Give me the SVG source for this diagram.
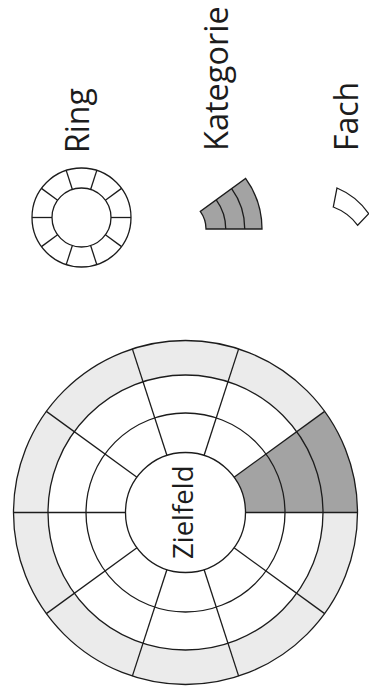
<svg xmlns="http://www.w3.org/2000/svg" width="369" height="697" viewBox="0 0 369 697">
  <style>
    .ln { fill: none; stroke: #1c1c1c; stroke-width: 1.3; }
    .lbl { font-family: "Open Sans", "Liberation Sans", sans-serif; fill: #1c1c1c; }
    .light { fill: #ebebeb; }
    .dark { fill: #a3a3a3; }
  </style>
  <rect width="369" height="697" fill="#ffffff"/>

  <g id="zielfeld-scheibe">
    <circle class="light" cx="185.5" cy="512.5" r="172"/>
    <circle cx="185.5" cy="512.5" r="137.5" fill="#ffffff"/>
    <path class="dark" d="M245.5,512.5 L357.5,512.5 A172,172 0 0,0 324.65,411.4 L234.04,477.23 A60,60 0 0,1 245.5,512.5 Z"/>
    <circle class="ln" cx="185.5" cy="512.5" r="172"/>
    <circle class="ln" cx="185.5" cy="512.5" r="137.5"/>
    <circle class="ln" cx="185.5" cy="512.5" r="99.5"/>
    <circle class="ln" cx="185.5" cy="512.5" r="60" fill="#ffffff"/>
    <g class="ln">
      <line x1="245.5" y1="512.5" x2="357.5" y2="512.5"/>
      <line x1="234.04" y1="477.23" x2="324.65" y2="411.4"/>
      <line x1="204.04" y1="455.44" x2="238.65" y2="348.92"/>
      <line x1="166.96" y1="455.44" x2="132.35" y2="348.92"/>
      <line x1="136.96" y1="477.23" x2="46.35" y2="411.4"/>
      <line x1="125.5" y1="512.5" x2="13.5" y2="512.5"/>
      <line x1="136.96" y1="547.77" x2="46.35" y2="613.6"/>
      <line x1="166.96" y1="569.56" x2="132.35" y2="676.08"/>
      <line x1="204.04" y1="569.56" x2="238.65" y2="676.08"/>
      <line x1="234.04" y1="547.77" x2="324.65" y2="613.6"/>
    </g>
    <text class="lbl" font-size="27.5" transform="translate(193,559) rotate(-90)">Zielfeld</text>
  </g>

  <g id="ring">
    <circle class="ln" cx="81.5" cy="217.5" r="49.5"/>
    <circle class="ln" cx="81.5" cy="217.5" r="29.5"/>
    <g class="ln">
      <line x1="111" y1="217.5" x2="131" y2="217.5"/>
      <line x1="105.37" y1="200.16" x2="121.55" y2="188.4"/>
      <line x1="90.62" y1="189.44" x2="96.8" y2="170.42"/>
      <line x1="72.38" y1="189.44" x2="66.2" y2="170.42"/>
      <line x1="57.63" y1="200.16" x2="41.45" y2="188.4"/>
      <line x1="52" y1="217.5" x2="32" y2="217.5"/>
      <line x1="57.63" y1="234.84" x2="41.45" y2="246.6"/>
      <line x1="72.38" y1="245.56" x2="66.2" y2="264.58"/>
      <line x1="90.62" y1="245.56" x2="96.8" y2="264.58"/>
      <line x1="105.37" y1="234.84" x2="121.55" y2="246.6"/>
    </g>
    <text class="lbl" font-size="32" transform="translate(88.5,153) rotate(-90)">Ring</text>
  </g>

  <g id="kategorie">
    <path class="ln" style="fill:#a3a3a3" d="M206,229 L262,229 A86,86 0 0,0 245.58,178.45 L200.27,211.37 A30,30 0 0,1 206,229 Z"/>
    <path class="ln" d="M225.75,229 A49.75,49.75 0 0,0 216.25,199.76 M244.75,229 A68.75,68.75 0 0,0 231.62,188.59"/>
    <text class="lbl" font-size="32.5" transform="translate(227.5,151) rotate(-90)">Kategorie</text>
  </g>

  <g id="fach">
    <path class="ln" d="M337,188 A72,72 0 0,1 368.7,213.7 L357.7,225.3 A54,54 0 0,0 333.3,207 Z"/>
    <text class="lbl" font-size="32" transform="translate(358,151) rotate(-90)">Fach</text>
  </g>
</svg>
